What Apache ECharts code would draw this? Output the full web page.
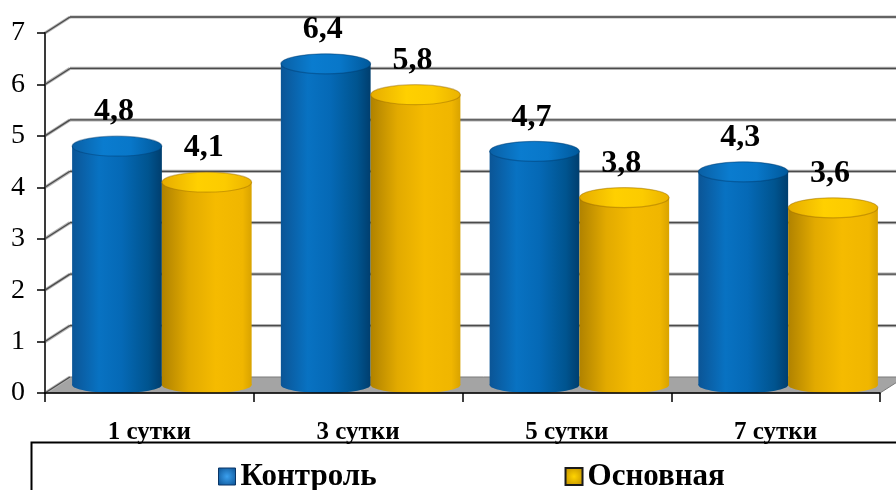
<!DOCTYPE html>
<html>
<head>
<meta charset="utf-8">
<style>
  html, body { margin: 0; padding: 0; background: #fff; }
  #chart { width: 896px; height: 490px; }
</style>
<script src="https://cdn.jsdelivr.net/npm/echarts@6/dist/echarts.min.js"></script>
</head>
<body>
<div id="chart"></div>
<script>
// Chart data
const categories = ['1 сутки', '3 сутки', '5 сутки', '7 сутки'];
const seriesNames = ['Контроль', 'Основная'];
const controlValues = [4.8, 6.4, 4.7, 4.3];
const mainValues = [4.1, 5.8, 3.8, 3.6];
const yTicks = [0, 1, 2, 3, 4, 5, 6, 7];

const SERIF = '"Liberation Serif", "Times New Roman", serif';
// depth of the pseudo-3D box (back wall offset from the front plane)
const DEPTH_X = 25, DEPTH_Y = -16;

const palettes = {
  blue: {
    body: [
      { offset: 0, color: '#0b5596' },
      { offset: 0.3, color: '#0872c2' },
      { offset: 0.55, color: '#0569b6' },
      { offset: 0.85, color: '#00548f' },
      { offset: 1, color: '#003e6e' }
    ],
    top: [
      { offset: 0, color: '#0a5fa4' },
      { offset: 0.35, color: '#0a7ccf' },
      { offset: 0.65, color: '#0877c9' },
      { offset: 1, color: '#00589a' }
    ],
    stroke: 'rgba(0,60,110,0.45)'
  },
  gold: {
    body: [
      { offset: 0, color: '#b08200' },
      { offset: 0.3, color: '#e2aa00' },
      { offset: 0.6, color: '#f5bb00' },
      { offset: 0.9, color: '#f0b600' },
      { offset: 1, color: '#d9a300' }
    ],
    top: [
      { offset: 0, color: '#e6ac00' },
      { offset: 0.4, color: '#ffd000' },
      { offset: 0.7, color: '#fccb00' },
      { offset: 1, color: '#eab200' }
    ],
    stroke: 'rgba(150,105,0,0.45)'
  }
};

function fmt(v) {
  return String(v).replace('.', ',');
}

// Draws one cylinder per data item; side = -1 (left of pair) or +1 (right of pair)
function cylinderRenderer(side, pal) {
  return function (params, api) {
    const cat = api.value(0);
    const v = api.value(1);
    const topPt = api.coord([cat, v]);
    const basePt = api.coord([cat, 0]);
    const band = api.size([1, 0])[0];
    const w = band * 0.43;
    const rx = w / 2;
    const cx = topPt[0] + DEPTH_X / 2 + side * rx;
    const yTop = topPt[1];
    const yBot = basePt[1] - 8;
    const ryTop = 10, ryBot = 8;
    const bodyFill = { type: 'linear', x: 0, y: 0, x2: 1, y2: 0, colorStops: pal.body };
    const topFill = { type: 'linear', x: 0, y: 0, x2: 1, y2: 0, colorStops: pal.top };
    return {
      type: 'group',
      children: [
        { type: 'ellipse', shape: { cx: cx, cy: yBot, rx: rx, ry: ryBot },
          style: { fill: bodyFill } },
        { type: 'rect', shape: { x: cx - rx, y: yTop, width: w, height: yBot - yTop },
          style: { fill: bodyFill } },
        { type: 'ellipse', shape: { cx: cx, cy: yTop, rx: rx, ry: ryTop },
          style: { fill: topFill, stroke: pal.stroke, lineWidth: 1.2 } },
        { type: 'text',
          style: { text: fmt(v), x: cx - 3, y: yTop - ryTop - 8,
                   textAlign: 'center', textVerticalAlign: 'bottom',
                   font: 'bold 32px ' + SERIF, fill: '#000' } }
      ]
    };
  };
}

// Back wall grid lines, side wall diagonals and floor
function wallRenderer(params, api) {
  const v = api.value(0);
  const cs = params.coordSys;
  const p = api.coord([0, v]);
  const x0 = cs.x, x1 = cs.x + cs.width;
  const y = p[1];
  const bx = x0 + DEPTH_X, by = y + DEPTH_Y;
  const children = [];
  if (v === 0) {
    children.push({
      type: 'polygon',
      shape: { points: [[x0, y], [x1, y], [x1 + DEPTH_X, by], [bx, by]] },
      style: { fill: '#a4a4a4', stroke: '#7a7a7a', lineWidth: 1 }
    });
  }
  const halo = { stroke: '#b4b4b4', lineWidth: 3.2 };
  const core = { stroke: '#4a4a4a', lineWidth: 1.3 };
  children.push(
    { type: 'line', shape: { x1: x0, y1: y, x2: bx, y2: by }, style: halo },
    { type: 'line', shape: { x1: x0, y1: y, x2: bx, y2: by }, style: core }
  );
  if (v !== 0) {
    children.push(
      { type: 'line', shape: { x1: bx, y1: by, x2: x1 + DEPTH_X + 20, y2: by }, style: halo },
      { type: 'line', shape: { x1: bx, y1: by, x2: x1 + DEPTH_X + 20, y2: by }, style: core }
    );
  }
  return { type: 'group', children: children };
}

const chart = echarts.init(document.getElementById('chart'), null, { renderer: 'canvas' });

const option = {
  backgroundColor: '#fff',
  animation: false,
  grid: { left: 45, right: 16, top: 33, bottom: 97, containLabel: false },
  xAxis: {
    type: 'category',
    data: categories,
    boundaryGap: true,
    axisLine: { show: true, lineStyle: { color: '#000', width: 1.5 } },
    axisTick: { show: true, interval: 0, length: 9, lineStyle: { color: '#000', width: 1.5 } },
    axisLabel: { interval: 0, margin: 27, color: '#000', fontFamily: SERIF, fontWeight: 'bold', fontSize: 25 },
    splitLine: { show: false },
    z: 5
  },
  yAxis: {
    type: 'value',
    min: 0, max: 7, interval: 1,
    axisLine: { show: true, lineStyle: { color: '#3a3a3a', width: 2 } },
    axisTick: { show: true, length: 8, lineStyle: { color: '#000', width: 1.5 } },
    axisLabel: { margin: 20, color: '#000', fontFamily: SERIF, fontSize: 28 },
    splitLine: { show: false },
    z: 5
  },
  legend: {
    left: 218,
    top: 461,
    padding: 0,
    itemGap: 188,
    itemWidth: 17,
    itemHeight: 17,
    icon: 'rect',
    selectedMode: false,
    textStyle: { color: '#000', fontFamily: SERIF, fontWeight: 'bold', fontSize: 31, padding: [2, 0, 0, 0] },
    data: [
      { name: seriesNames[0], itemStyle: {
          color: { type: 'radial', x: 0.5, y: 0.5, r: 0.7,
                   colorStops: [{ offset: 0, color: '#3ba0ee' }, { offset: 1, color: '#0a4f90' }] },
          borderColor: '#0a3566', borderWidth: 1 } },
      { name: seriesNames[1], itemStyle: {
          color: { type: 'radial', x: 0.5, y: 0.5, r: 0.7,
                   colorStops: [{ offset: 0, color: '#ffd400' }, { offset: 1, color: '#b88600' }] },
          borderColor: '#1a1a1a', borderWidth: 2 } }
    ]
  },
  graphic: [
    { type: 'rect', left: 29, top: 440, shape: { width: 900, height: 80 },
      style: { fill: 'none', stroke: '#000', lineWidth: 2 }, silent: true }
  ],
  series: [
    {
      type: 'custom',
      name: 'wall',
      silent: true,
      z: 1,
      renderItem: wallRenderer,
      encode: { y: 0 },
      data: yTicks.map(function (t) { return [t]; })
    },
    {
      type: 'custom',
      name: seriesNames[0],
      silent: true,
      z: 3,
      itemStyle: { color: '#0870c0' },
      renderItem: cylinderRenderer(-1, palettes.blue),
      encode: { x: 0, y: 1 },
      data: controlValues.map(function (v, i) { return [i, v]; })
    },
    {
      type: 'custom',
      name: seriesNames[1],
      silent: true,
      z: 4,
      itemStyle: { color: '#f2b800' },
      renderItem: cylinderRenderer(1, palettes.gold),
      encode: { x: 0, y: 1 },
      data: mainValues.map(function (v, i) { return [i, v]; })
    }
  ]
};

chart.setOption(option);
</script>
</body>
</html>
